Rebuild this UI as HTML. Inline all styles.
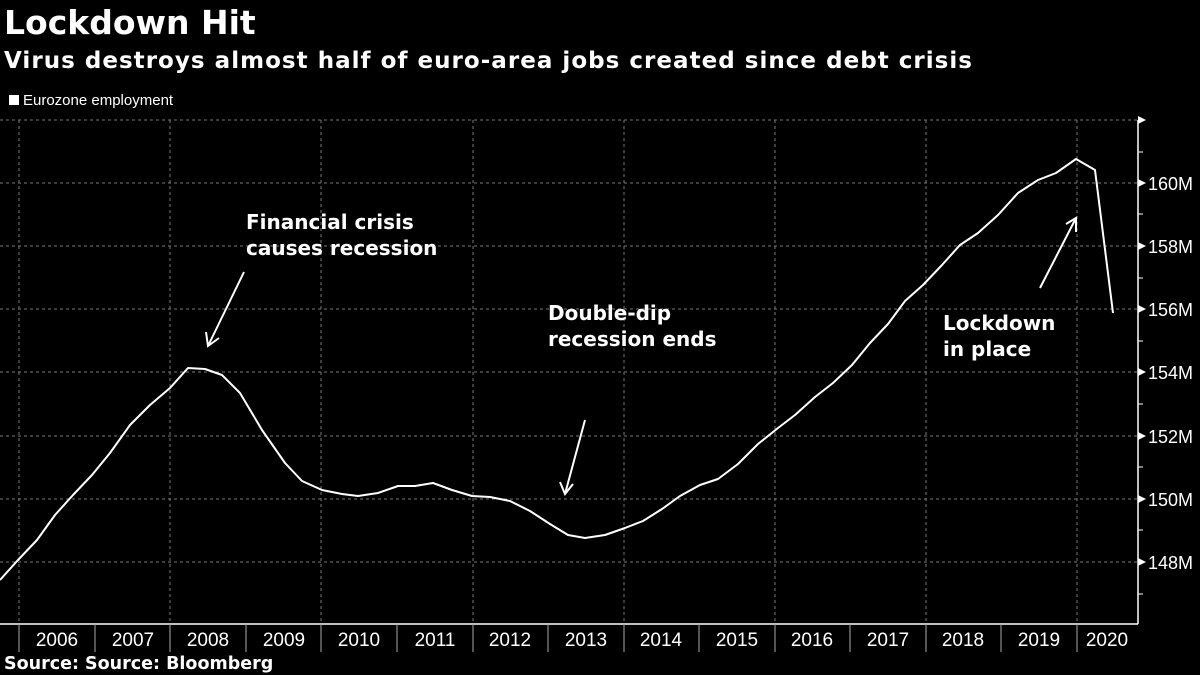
<!DOCTYPE html><html><head><style>
body{margin:0;background:#000;width:1200px;height:675px;overflow:hidden;font-family:"Liberation Sans","DejaVu Sans",sans-serif;color:#fff}
</style></head><body>
<svg width="1200" height="675" xmlns="http://www.w3.org/2000/svg" style="position:absolute;left:0;top:0">
<text x="4" y="34" font-size="33" font-weight="bold" fill="#fff" font-family="DejaVu Sans, sans-serif">Lockdown Hit</text>
<text x="4" y="68" font-size="23" font-weight="bold" fill="#fff" font-family="DejaVu Sans, sans-serif" textLength="968" lengthAdjust="spacing">Virus destroys almost half of euro-area jobs created since debt crisis</text>
<rect x="9" y="95" width="10" height="10" fill="#fff"/>
<text x="23" y="105" font-size="15" fill="#fff">Eurozone employment</text>
<g stroke="#777" stroke-dasharray="3,3" stroke-width="1">
<line x1="0" y1="120" x2="1138" y2="120"/><line x1="0" y1="183" x2="1138" y2="183"/><line x1="0" y1="246" x2="1138" y2="246"/><line x1="0" y1="309" x2="1138" y2="309"/><line x1="0" y1="372" x2="1138" y2="372"/><line x1="0" y1="436" x2="1138" y2="436"/><line x1="0" y1="499" x2="1138" y2="499"/><line x1="0" y1="562" x2="1138" y2="562"/>
<line x1="19" y1="120" x2="19" y2="624"/><line x1="170" y1="120" x2="170" y2="624"/><line x1="321" y1="120" x2="321" y2="624"/><line x1="473" y1="120" x2="473" y2="624"/><line x1="624" y1="120" x2="624" y2="624"/><line x1="775" y1="120" x2="775" y2="624"/><line x1="926" y1="120" x2="926" y2="624"/><line x1="1077" y1="120" x2="1077" y2="624"/>
</g>
<line x1="0" y1="624" x2="1138" y2="624" stroke="#fff" stroke-width="1.5"/>
<line x1="1138" y1="120" x2="1138" y2="624" stroke="#fff" stroke-width="1.5"/>
<polygon points="1138,116 1146,120 1138,124" fill="#fff"/>
<g stroke="#fff" stroke-width="1"><line x1="1138" y1="152" x2="1143" y2="152"/><line x1="1138" y1="214" x2="1143" y2="214"/><line x1="1138" y1="278" x2="1143" y2="278"/><line x1="1138" y1="341" x2="1143" y2="341"/><line x1="1138" y1="404" x2="1143" y2="404"/><line x1="1138" y1="467" x2="1143" y2="467"/><line x1="1138" y1="530" x2="1143" y2="530"/><line x1="1138" y1="594" x2="1143" y2="594"/></g>
<g fill="#fff"><polygon points="1138,179 1146,183 1138,187"/><polygon points="1138,242 1146,246 1138,250"/><polygon points="1138,305 1146,309 1138,313"/><polygon points="1138,368 1146,372 1138,376"/><polygon points="1138,432 1146,436 1138,440"/><polygon points="1138,495 1146,499 1138,503"/><polygon points="1138,558 1146,562 1138,566"/></g>
<g font-size="18" fill="#fff"><text x="1148" y="190">160M</text><text x="1148" y="253">158M</text><text x="1148" y="316">156M</text><text x="1148" y="379">154M</text><text x="1148" y="443">152M</text><text x="1148" y="506">150M</text><text x="1148" y="569">148M</text></g>
<g stroke="#aaa" stroke-width="1">
<line x1="19" y1="624" x2="19" y2="652"/><line x1="95" y1="624" x2="95" y2="652"/><line x1="170" y1="624" x2="170" y2="652"/><line x1="246" y1="624" x2="246" y2="652"/><line x1="321" y1="624" x2="321" y2="652"/><line x1="397" y1="624" x2="397" y2="652"/><line x1="473" y1="624" x2="473" y2="652"/><line x1="548" y1="624" x2="548" y2="652"/><line x1="624" y1="624" x2="624" y2="652"/><line x1="699" y1="624" x2="699" y2="652"/><line x1="775" y1="624" x2="775" y2="652"/><line x1="850" y1="624" x2="850" y2="652"/><line x1="926" y1="624" x2="926" y2="652"/><line x1="1001" y1="624" x2="1001" y2="652"/><line x1="1077" y1="624" x2="1077" y2="652"/>
</g>
<g font-size="19" fill="#fff" text-anchor="middle">
<text x="57" y="646">2006</text><text x="133" y="646">2007</text><text x="208" y="646">2008</text><text x="284" y="646">2009</text><text x="359" y="646">2010</text><text x="435" y="646">2011</text><text x="510" y="646">2012</text><text x="586" y="646">2013</text><text x="661" y="646">2014</text><text x="737" y="646">2015</text><text x="812" y="646">2016</text><text x="888" y="646">2017</text><text x="963" y="646">2018</text><text x="1039" y="646">2019</text><text x="1107" y="646">2020</text>
</g>
<text x="4" y="669" font-size="17.5" font-weight="bold" fill="#fff" font-family="DejaVu Sans, sans-serif">Source: Source: Bloomberg</text>
<polyline fill="none" stroke="#fff" stroke-width="2" stroke-linejoin="round" points="0,580 18,560 37,540 55,515 73,495 92,475 110,453 130,425 150,405 170,388 188,368 205,369 222,375 240,393 262,430 285,463 302,481 322,490 342,494 358,496 378,493 398,486 415,486 433,483 452,490 472,496 490,497 510,501 530,511 550,524 568,535 585,538 605,535 625,528 643,521 662,509 680,496 700,485 718,479 738,464 758,444 778,428 795,415 815,397 833,383 852,365 870,343 888,324 905,301 923,285 942,265 960,245 978,233 998,215 1018,193 1038,180 1056,173 1076,159 1095,170 1113,313"/>
<g font-size="20" font-weight="bold" fill="#fff" font-family="DejaVu Sans, sans-serif">
<text x="246" y="229">Financial crisis</text><text x="246" y="255">causes recession</text>
<text x="548" y="320">Double-dip</text><text x="548" y="346">recession ends</text>
<text x="943" y="330">Lockdown</text><text x="943" y="356">in place</text>
</g>
<g stroke="#fff" stroke-width="2" fill="none">
<line x1="244" y1="272" x2="208" y2="346"/><polyline points="206,332 208,346 219,338"/>
<line x1="585" y1="420" x2="565" y2="494"/><polyline points="560,482 565,494 573,484"/>
<line x1="1040" y1="288" x2="1076" y2="218"/><polyline points="1066,224 1076,218 1076,232"/>
</g>
</svg>
</body></html>
